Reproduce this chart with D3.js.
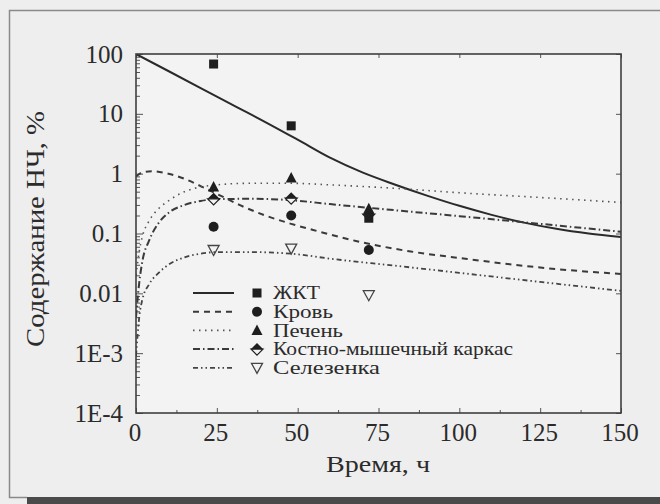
<!DOCTYPE html>
<html>
<head>
<meta charset="utf-8">
<script src="https://cdn.jsdelivr.net/npm/d3@7"></script>
<style>
  html, body { margin: 0; padding: 0; background: #eeeeee; }
  svg { display: block; }
</style>
</head>
<body>
<svg id="chart" width="660" height="504"></svg>
<script>
// Measured nanoparticle content (% of dose) by organ
const sampleHours = [24, 48, 72];
const gitMeasured = [68, 6.3, 0.18];
const bloodMeasured = [0.13, 0.2, 0.053];
const liverMeasured = [0.6, 0.85, 0.26];
const muscleMeasured = [0.38, 0.39, 0.21];
const spleenMeasured = [0.053, 0.056, 0.0093];

// Model curves
const gitTimes = [0, 10, 20, 30, 40, 50, 60, 70, 80, 90, 100, 110, 120, 130, 140, 150];
const gitCurve = [100, 52, 27, 14, 7.3, 3.7, 1.85, 1.05, 0.66, 0.43, 0.29, 0.205, 0.152, 0.12, 0.1, 0.087];
const bloodTimes = [0, 2, 5, 10, 15, 20, 25, 32, 40, 48, 56, 68, 85, 100, 122, 150];
const bloodCurve = [0.9, 1.05, 1.1, 1.0, 0.82, 0.62, 0.46, 0.3, 0.2, 0.145, 0.11, 0.075, 0.05, 0.039, 0.028, 0.021];
const liverTimes = [0, 1, 2, 4, 7, 10, 15, 20, 25, 35, 48, 60, 80, 100, 125, 150];
const liverCurve = [0.02, 0.05, 0.09, 0.16, 0.26, 0.35, 0.5, 0.6, 0.65, 0.69, 0.69, 0.65, 0.57, 0.48, 0.4, 0.33];
const muscleTimes = [0, 1, 2, 4, 7, 10, 15, 20, 25, 35, 48, 60, 80, 100, 125, 150];
const muscleCurve = [0.004, 0.015, 0.035, 0.075, 0.15, 0.22, 0.3, 0.35, 0.375, 0.38, 0.36, 0.31, 0.245, 0.195, 0.145, 0.107];
const spleenTimes = [0, 0.5, 1, 2, 4, 7, 10, 15, 20, 25, 35, 48, 60, 80, 100, 125, 150];
const spleenCurve = [0.0009, 0.002, 0.004, 0.008, 0.014, 0.022, 0.03, 0.04, 0.046, 0.049, 0.049, 0.046, 0.038, 0.029, 0.022, 0.0155, 0.011];

const seriesNames = ["ЖКТ", "Кровь", "Печень", "Костно-мышечный каркас", "Селезенка"];
const xTicks = [0, 25, 50, 75, 100, 125, 150];
const yTicks = [1e-4, 1e-3, 0.01, 0.1, 1, 10, 100];
const yTickLabels = ["1E-4", "1E-3", "0.01", "0.1", "1", "10", "100"];
const xTitle = "Время, ч";
const yTitle = "Содержание НЧ, %";

const serif = "'Liberation Serif', 'Times New Roman', Tinos, 'Noto Serif', 'DejaVu Serif', serif";
const svg = d3.select("#chart")
  .attr("font-family", serif)
  .style("font-family", serif);
const L = 136, R = 621, T = 54, B = 413;
const x = d3.scaleLinear().domain([0, 150]).range([L, R]);
const y = d3.scaleLog().domain([1e-4, 100]).range([B, T]);
const ink = "#2b2b2b";

// page frame
svg.append("rect").attr("width", 660).attr("height", 504).attr("fill", "#eeeeee");
svg.append("path").attr("d", "M660,10.5 H9.5 V497.5 H27")
  .attr("fill", "none").attr("stroke", "#8a8a8a").attr("stroke-width", 1.5);
svg.append("rect").attr("x", 27).attr("y", 497).attr("width", 633).attr("height", 7).attr("fill", "#4a4a4a");

// plot area
svg.append("rect").attr("x", L).attr("y", T).attr("width", R - L).attr("height", B - T)
  .attr("fill", "#f3f3f3");

const tickColor = "#555";
// y axis (left) ticks, inside
svg.append("g").attr("transform", `translate(${L},0)`)
  .call(d3.axisRight(y).tickValues(yTicks).tickSize(7).tickFormat(""));
const yMinor = [];
for (let e = -4; e < 2; e++) for (let m = 2; m <= 9; m++) yMinor.push(m * Math.pow(10, e));
svg.append("g").attr("transform", `translate(${L},0)`)
  .call(d3.axisRight(y).tickValues(yMinor).tickSize(4).tickFormat(""));
// right mirrored ticks
svg.append("g").attr("transform", `translate(${R},0)`)
  .call(d3.axisLeft(y).tickValues(yTicks).tickSize(5).tickFormat(""));
// x ticks (bottom/top), inside
svg.append("g").attr("transform", `translate(0,${B})`)
  .call(d3.axisTop(x).tickValues(xTicks).tickSize(5).tickFormat(""));
svg.append("g").attr("transform", `translate(0,${B})`)
  .call(d3.axisTop(x).tickValues(d3.range(12.5, 150, 25)).tickSize(3).tickFormat(""));
svg.append("g").attr("transform", `translate(0,${T})`)
  .call(d3.axisBottom(x).tickValues(xTicks).tickSize(4).tickFormat(""));
svg.selectAll(".domain").remove();
svg.selectAll(".tick line").attr("stroke", tickColor).attr("stroke-width", 1);

// tick labels
svg.append("g").selectAll("text").data(yTicks).join("text")
  .attr("x", 123).attr("y", d => y(d)).attr("dy", "0.34em")
  .attr("text-anchor", "end").attr("font-size", 25).attr("fill", ink)
  .text((d, i) => yTickLabels[i]);
svg.append("g").selectAll("text").data(xTicks).join("text")
  .attr("x", d => x(d) - 1).attr("y", 441)
  .attr("text-anchor", "middle").attr("font-size", 25).attr("fill", ink)
  .text(d => d);

// axis titles
svg.append("text").attr("x", 378).attr("y", 472).attr("text-anchor", "middle")
  .attr("font-size", 24).attr("fill", ink)
  .attr("textLength", 104).attr("lengthAdjust", "spacingAndGlyphs")
  .text(xTitle);
svg.append("text").attr("transform", "translate(44,229) rotate(-90)").attr("text-anchor", "middle")
  .attr("font-size", 25).attr("fill", ink)
  .attr("textLength", 236).attr("lengthAdjust", "spacingAndGlyphs")
  .text(yTitle);

// curves
const styles = [
  { dash: null, w: 2, c: "#2a2a2a" },
  { dash: "6,5", w: 2, c: "#3a3a3a" },
  { dash: "1.5,4.5", w: 1.6, c: "#555" },
  { dash: "7,3,1.5,3", w: 2, c: "#3a3a3a" },
  { dash: "5,3,1.5,3,1.5,3", w: 1.8, c: "#444" }
];
const curveSets = [
  [gitTimes, gitCurve], [bloodTimes, bloodCurve], [liverTimes, liverCurve],
  [muscleTimes, muscleCurve], [spleenTimes, spleenCurve]
];
const line = d3.line().x(d => x(d[0])).y(d => y(d[1])).curve(d3.curveMonotoneX);
const clip = svg.append("clipPath").attr("id", "clip");
clip.append("rect").attr("x", L).attr("y", T).attr("width", R - L).attr("height", B - T);
const gCurves = svg.append("g").attr("clip-path", "url(#clip)");
curveSets.forEach(([ts, vs], i) => {
  gCurves.append("path")
    .attr("d", line(ts.map((t, k) => [t, vs[k]])))
    .attr("fill", "none").attr("stroke", styles[i].c)
    .attr("stroke-width", styles[i].w)
    .attr("stroke-dasharray", styles[i].dash);
});

// marker drawing
function marker(g, kind, cx, cy) {
  const c = "#1e1e1e";
  if (kind === 0) {
    g.append("rect").attr("x", cx - 4.5).attr("y", cy - 4.5).attr("width", 9).attr("height", 9).attr("fill", c);
  } else if (kind === 1) {
    g.append("circle").attr("cx", cx).attr("cy", cy).attr("r", 5).attr("fill", c);
  } else if (kind === 2) {
    g.append("path").attr("d", `M${cx},${cy - 6}L${cx + 5.5},${cy + 4.5}L${cx - 5.5},${cy + 4.5}Z`).attr("fill", c);
  } else if (kind === 3) {
    g.append("path").attr("d", `M${cx - 6},${cy}L${cx},${cy + 6}L${cx + 6},${cy}Z`)
      .attr("fill", "#f3f3f3").attr("stroke", c).attr("stroke-width", 1.2);
    g.append("path").attr("d", `M${cx - 6},${cy}L${cx},${cy - 6}L${cx + 6},${cy}Z`).attr("fill", c);
  } else {
    g.append("path").attr("d", `M${cx - 5.5},${cy - 4.5}L${cx + 5.5},${cy - 4.5}L${cx},${cy + 5.5}Z`)
      .attr("fill", "none").attr("stroke", "#444").attr("stroke-width", 1.3);
  }
}
const measured = [gitMeasured, bloodMeasured, liverMeasured, muscleMeasured, spleenMeasured];
const gPts = svg.append("g");
[4, 1, 3, 0, 2].forEach(i => {
  measured[i].forEach((v, k) => marker(gPts, i, x(sampleHours[k]), y(v)));
});

// plot border
svg.append("rect").attr("x", L).attr("y", T).attr("width", R - L).attr("height", B - T)
  .attr("fill", "none").attr("stroke", "#3f3f3f").attr("stroke-width", 1.6);

// legend
const legendWidths = [47, 60, 70, 240, 107];
const gLeg = svg.append("g");
seriesNames.forEach((name, i) => {
  const ly = 293 + i * 18.7;
  gLeg.append("line").attr("x1", 193).attr("x2", 234).attr("y1", ly).attr("y2", ly)
    .attr("stroke", styles[i].c).attr("stroke-width", styles[i].w)
    .attr("stroke-dasharray", styles[i].dash);
  marker(gLeg, i, 257, ly);
  gLeg.append("text").attr("x", 273).attr("y", ly).attr("dy", "0.34em")
    .attr("font-size", 18).attr("fill", ink)
    .attr("textLength", legendWidths[i]).attr("lengthAdjust", "spacingAndGlyphs")
    .text(name);
});
</script>
</body>
</html>
